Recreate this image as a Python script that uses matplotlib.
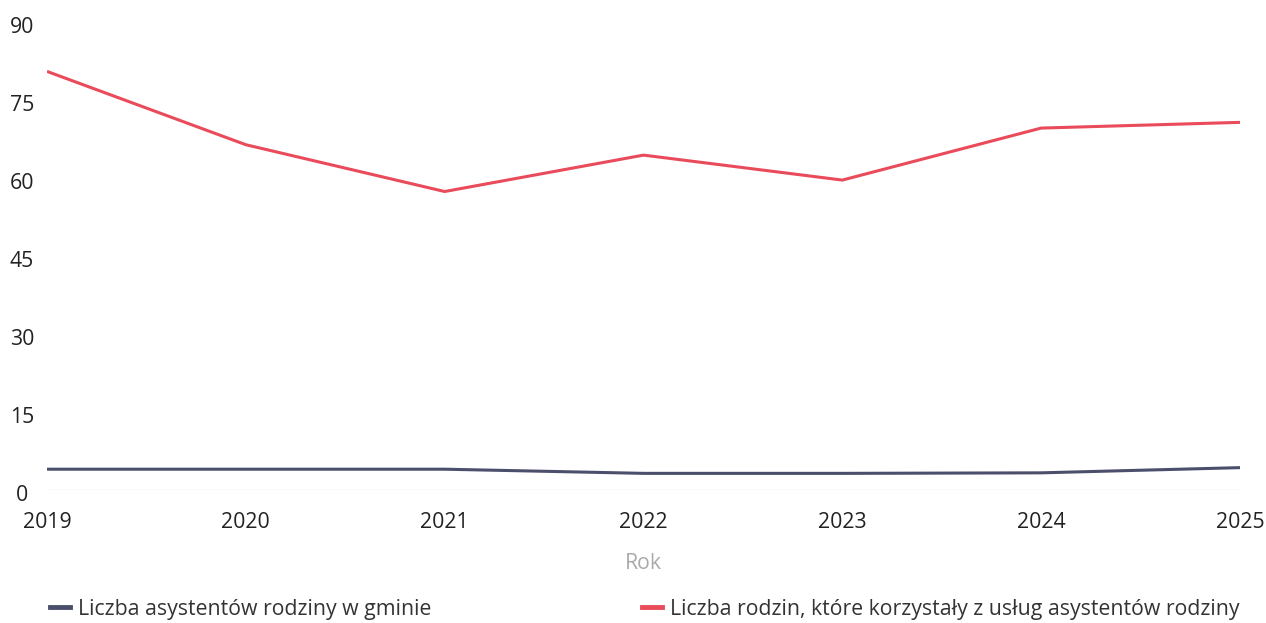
import matplotlib
matplotlib.use("Agg")
import matplotlib.pyplot as plt
from matplotlib.lines import Line2D
from matplotlib.transforms import ScaledTranslation

years = [2019, 2020, 2021, 2022, 2023, 2024, 2025]
asystenci = [4, 4, 4, 3.2, 3.2, 3.3, 4.3]
rodziny = [80.5, 66.4, 57.4, 64.4, 59.6, 69.6, 70.7]
yticks = [0, 15, 30, 45, 60, 75, 90]
series_names = ["Liczba asystentów rodziny w gminie",
                "Liczba rodzin, które korzystały z usług asystentów rodziny"]
colors = ["#4b4f6b", "#e94b5a"]

plt.rcParams['font.family'] = ['Open Sans', 'DejaVu Sans']

W, H, DPI = 1266, 623, 100
FS = 15.3
fig = plt.figure(figsize=(W / DPI, H / DPI), dpi=DPI)
left, right = 47 / W, 1240 / W
bottom, top = (H - 490) / H, (H - 22) / H
ax = fig.add_axes([left, bottom, right - left, top - bottom])

ax.plot(years, asystenci, color=colors[0], lw=2.2, solid_capstyle='butt')
ax.plot(years, rodziny, color=colors[1], lw=2.2, solid_capstyle='butt')

ax.set_xlim(years[0], years[-1])
ax.set_ylim(0, 90)
ax.set_yticks(yticks)
ax.set_xticks(years)
for s in ax.spines.values():
    s.set_visible(False)
ax.axhline(0, color='#e6e6e6', lw=1, zorder=0)
ax.tick_params(axis='y', length=0, pad=18, labelsize=FS, labelcolor='#222222')
ax.tick_params(axis='x', length=0, pad=16, labelsize=FS, labelcolor='#222222')
offset = ScaledTranslation(0, -3 / DPI, fig.dpi_scale_trans)
for lab in ax.get_yticklabels():
    lab.set_horizontalalignment('center')
    lab.set_transform(lab.get_transform() + offset)

ax.set_xlabel("Rok", color='#aaaaaa', fontsize=FS, labelpad=14)

for i, xpx in enumerate([50, 642]):
    h = Line2D([0], [0], color=colors[i], lw=3.5)
    leg = fig.legend([h], [series_names[i]], loc='center left',
                     bbox_to_anchor=(xpx / W, (H - 609) / H),
                     frameon=False, fontsize=FS, handlelength=0.95,
                     handletextpad=0.35, borderpad=0, borderaxespad=0,
                     labelcolor='#333333')

fig.savefig("out.png", dpi=DPI, facecolor='white')
